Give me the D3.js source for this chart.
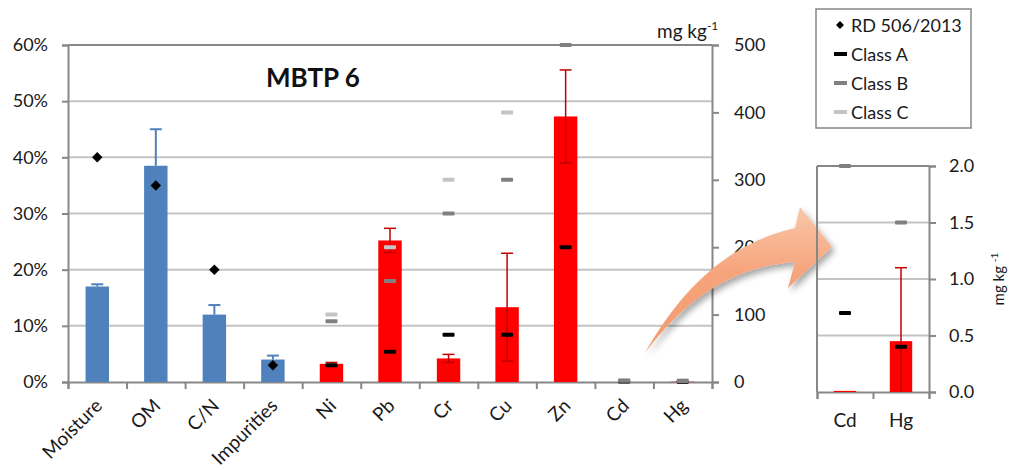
<!DOCTYPE html>
<html>
<head>
<meta charset="utf-8">
<script src="https://cdn.jsdelivr.net/npm/d3@7"></script>
<style>
  body { margin: 0; background: #fff; }
  svg { font-family: Lato, "Open Sans", sans-serif; }
</style>
</head>
<body>
<div class="chart"></div>
<script>
// categories on the main chart
const categories = ['Moisture', 'OM', 'C/N', 'Impurities', 'Ni', 'Pb', 'Cr', 'Cu', 'Zn', 'Cd', 'Hg'];

// % parameters (left axis)
const pctCats = ['Moisture', 'OM', 'C/N', 'Impurities'];
const pctValues = [17, 38.5, 12, 4];
const pctErr = [0.4, 6.5, 1.7, 0.7];
const rdLimits = [40, 35, 20, 3];

// metals (right axis, mg/kg)
const metalCats = ['Ni', 'Pb', 'Cr', 'Cu', 'Zn', 'Cd', 'Hg'];
const metalValues = [27, 210, 35, 111, 394, 0.01, 0.45];
const metalErr = [2, 18, 6, 80, 69, 0, 0.65];
const classA = [25, 45, 70, 70, 200, 0.7, 0.4];
const classB = [90, 150, 250, 300, 500, 2, 1.5];
const classC = [100, 200, 300, 400, 1000, 3, 2.5];

const leftTicks = [0, 10, 20, 30, 40, 50, 60];
const rightTicks = [0, 100, 200, 300, 400, 500];
const insetTicks = [0, 0.5, 1, 1.5, 2];
const insetCats = ['Cd', 'Hg'];

const W = 1009, H = 470;
const axisCol = '#878787', gridCol = '#c3c3c3';
const blue = '#4f81bd', red = '#ff0000', darkRed = '#c00000';
const colA = '#000000', colB = '#808080', colC = '#c4c4c4';

const svg = d3.select('.chart').append('svg')
    .attr('width', W)
    .attr('height', H);

const defs = svg.append('defs');
defs.append('clipPath').attr('id', 'mainClip')
    .append('rect').attr('x', 60).attr('y', 40).attr('width', 660).attr('height', 350);

const grad = defs.append('linearGradient').attr('id', 'arrowGrad')
    .attr('x1', '0%').attr('y1', '0%').attr('x2', '0%').attr('y2', '100%');
grad.append('stop').attr('offset', '0%').attr('stop-color', '#f9c7aa');
grad.append('stop').attr('offset', '45%').attr('stop-color', '#f6a47c');
grad.append('stop').attr('offset', '100%').attr('stop-color', '#f19a6e');
const shadow = defs.append('filter').attr('id', 'shadow')
    .attr('x', '-20%').attr('y', '-20%').attr('width', '150%').attr('height', '150%');
shadow.append('feDropShadow').attr('dx', 3).attr('dy', 4).attr('stdDeviation', 3)
    .attr('flood-color', '#000').attr('flood-opacity', 0.35);

// ---------- main chart ----------
const x = d3.scaleBand().domain(categories).range([68, 712]).paddingInner(0.6).paddingOuter(0.3);
const xIdx = d3.scaleLinear().domain([0, categories.length]).range([68, 712]);
const yL = d3.scaleLinear().domain([0, 60]).range([382, 45]);
const yR = d3.scaleLinear().domain([0, 500]).range([382, 45]);

// gridlines
svg.append('g').selectAll('line')
    .data(leftTicks.slice(1, -1))
    .enter().append('line')
    .attr('x1', 68).attr('x2', 712)
    .attr('y1', d => yL(d)).attr('y2', d => yL(d))
    .attr('stroke', gridCol).attr('stroke-width', 2);
svg.append('line')
    .attr('x1', 68).attr('x2', 712).attr('y1', yL(60)).attr('y2', yL(60))
    .attr('stroke', axisCol).attr('stroke-width', 2);

// left axis
const gl = svg.append('g').attr('transform', 'translate(68,0)')
    .call(d3.axisLeft(yL).tickValues(leftTicks).tickFormat(d => d + '%').tickSize(6).tickPadding(14));
// right axis
const gr = svg.append('g').attr('transform', 'translate(712,0)')
    .call(d3.axisRight(yR).tickValues(rightTicks).tickSize(7).tickPadding(15));
// bottom axis (ticks at category boundaries)
const gb = svg.append('g').attr('transform', 'translate(0,382)')
    .call(d3.axisBottom(xIdx).ticks(11).tickSize(7).tickFormat(''));
[gl, gr, gb].forEach(g => {
    g.select('.domain').attr('stroke', axisCol).attr('stroke-width', 2);
    g.selectAll('.tick line').attr('stroke', axisCol).attr('stroke-width', 2);
    g.selectAll('.tick text').attr('font-size', 18).attr('fill', '#1a1a1a')
        .attr('font-family', 'Lato, sans-serif');
});

const plot = svg.append('g').attr('clip-path', 'url(#mainClip)');

// % bars
plot.selectAll('rect.pct')
    .data(pctCats)
    .enter().append('rect')
    .attr('class', 'pct')
    .attr('x', d => x(d))
    .attr('width', x.bandwidth())
    .attr('y', (d, i) => yL(pctValues[i]))
    .attr('height', (d, i) => yL(0) - yL(pctValues[i]))
    .attr('fill', blue);

// metal bars
plot.selectAll('rect.metal')
    .data(metalCats)
    .enter().append('rect')
    .attr('class', 'metal')
    .attr('x', d => x(d))
    .attr('width', x.bandwidth())
    .attr('y', (d, i) => yR(metalValues[i]))
    .attr('height', (d, i) => yR(0) - yR(metalValues[i]))
    .attr('fill', red);

// error bars, % (plus only)
pctCats.forEach((c, i) => {
    const cx = x(c) + x.bandwidth() / 2;
    plot.append('line').attr('x1', cx).attr('x2', cx)
        .attr('y1', yL(pctValues[i])).attr('y2', yL(pctValues[i] + pctErr[i]))
        .attr('stroke', blue).attr('stroke-width', 2);
    plot.append('line').attr('x1', cx - 6).attr('x2', cx + 6)
        .attr('y1', yL(pctValues[i] + pctErr[i])).attr('y2', yL(pctValues[i] + pctErr[i]))
        .attr('stroke', blue).attr('stroke-width', 2);
});

// error bars, metals (both ways)
function metalError(g, xs, ys, cats, vals, errs, capW) {
    cats.forEach((c, i) => {
        if (!errs[i]) return;
        const cx = xs(c) + xs.bandwidth() / 2;
        const lo = Math.max(0, vals[i] - errs[i]), hi = vals[i] + errs[i];
        g.append('line').attr('x1', cx).attr('x2', cx)
            .attr('y1', ys(lo)).attr('y2', ys(hi))
            .attr('stroke', darkRed).attr('stroke-width', 1.5);
        [hi, lo].forEach(v => {
            if (v === 0) return;
            g.append('line').attr('x1', cx - capW).attr('x2', cx + capW)
                .attr('y1', ys(v)).attr('y2', ys(v))
                .attr('stroke', darkRed).attr('stroke-width', 1.5);
        });
    });
}
metalError(plot, x, yR, metalCats, metalValues, metalErr, 6);

// class limit markers (grey class B drawn last so it sits on top near 0)
function classMarks(g, xs, ys, cats, arr, col, maxV) {
    g.selectAll(null)
        .data(cats.filter((c, i) => arr[i] <= maxV))
        .enter().append('rect')
        .attr('x', d => xs(d) + xs.bandwidth() / 2 - 6)
        .attr('y', d => ys(arr[cats.indexOf(d)]) - 2)
        .attr('width', 12).attr('height', 4)
        .attr('rx', 1)
        .attr('fill', col);
}
classMarks(plot, x, yR, metalCats, classA, colA, 500);
classMarks(plot, x, yR, metalCats, classC, colC, 500);
classMarks(plot, x, yR, metalCats, classB, colB, 500);

// RD 506/2013 diamonds
plot.selectAll('path.rd')
    .data(pctCats)
    .enter().append('path')
    .attr('class', 'rd')
    .attr('d', d3.symbol(d3.symbolDiamond2, 70))
    .attr('transform', (d, i) => `translate(${x(d) + x.bandwidth() / 2},${yL(rdLimits[i])})`)
    .attr('fill', '#000');

// category labels
svg.append('g').selectAll('text')
    .data(categories)
    .enter().append('text')
    .attr('transform', d => `translate(${x(d) + x.bandwidth() / 2 + 6},${407}) rotate(-45)`)
    .attr('text-anchor', 'end')
    .attr('font-size', 19)
    .attr('fill', '#1a1a1a')
    .text(d => d);

// title
svg.append('text').attr('x', 266).attr('y', 87)
    .attr('font-size', 26).attr('font-weight', 'bold').attr('fill', '#111')
    .text('MBTP 6');

// unit
const unit = svg.append('text').attr('x', 657).attr('y', 38)
    .attr('font-size', 19).attr('fill', '#1a1a1a');
unit.append('tspan').text('mg kg');
unit.append('tspan').attr('dy', -8).attr('font-size', 12).text('-1');

// ---------- arrow ----------
svg.append('path')
    .attr('d', 'M645,353 C675,300 720,245 795,228 L800,207 L832,247 L788,288 L795,262 C740,266 690,292 645,353 Z')
    .attr('fill', 'url(#arrowGrad)')
    .attr('filter', 'url(#shadow)');

// ---------- inset ----------
const xi = d3.scaleBand().domain(insetCats).range([817, 929]).paddingInner(0.6).paddingOuter(0.3);
const xiIdx = d3.scaleLinear().domain([0, 2]).range([817, 929]);
const yI = d3.scaleLinear().domain([0, 2]).range([392, 166]);

svg.append('g').selectAll('line')
    .data(insetTicks.slice(1, -1))
    .enter().append('line')
    .attr('x1', 817).attr('x2', 929)
    .attr('y1', d => yI(d)).attr('y2', d => yI(d))
    .attr('stroke', gridCol).attr('stroke-width', 2);
svg.append('line').attr('x1', 817).attr('x2', 929).attr('y1', yI(2)).attr('y2', yI(2))
    .attr('stroke', axisCol).attr('stroke-width', 2);
svg.append('line').attr('x1', 817).attr('x2', 817).attr('y1', yI(2)).attr('y2', yI(0))
    .attr('stroke', axisCol).attr('stroke-width', 2);

const gir = svg.append('g').attr('transform', 'translate(929,0)')
    .call(d3.axisRight(yI).tickValues(insetTicks).tickFormat(d3.format('.1f')).tickSize(7).tickPadding(13));
const gib = svg.append('g').attr('transform', 'translate(0,392)')
    .call(d3.axisBottom(xiIdx).ticks(2).tickSize(7).tickFormat(''));
[gir, gib].forEach(g => {
    g.select('.domain').attr('stroke', axisCol).attr('stroke-width', 2);
    g.selectAll('.tick line').attr('stroke', axisCol).attr('stroke-width', 2);
    g.selectAll('.tick text').attr('font-size', 18).attr('fill', '#1a1a1a')
        .attr('font-family', 'Lato, sans-serif');
});

const insetVals = insetCats.map(c => metalValues[metalCats.indexOf(c)]);
const insetErr = insetCats.map(c => metalErr[metalCats.indexOf(c)]);
const inset = svg.append('g');
inset.selectAll('rect.bar')
    .data(insetCats)
    .enter().append('rect')
    .attr('class', 'bar')
    .attr('x', d => xi(d))
    .attr('width', xi.bandwidth())
    .attr('y', (d, i) => yI(insetVals[i]))
    .attr('height', (d, i) => yI(0) - yI(insetVals[i]))
    .attr('fill', red);
metalError(inset, xi, yI, insetCats, insetVals, insetErr, 6);
const pick = arr => insetCats.map(c => arr[metalCats.indexOf(c)]);
classMarks(inset, xi, yI, insetCats, pick(classC), colC, 2);
classMarks(inset, xi, yI, insetCats, pick(classB), colB, 2);
classMarks(inset, xi, yI, insetCats, pick(classA), colA, 2);

svg.append('g').selectAll('text')
    .data(insetCats)
    .enter().append('text')
    .attr('x', d => xi(d) + xi.bandwidth() / 2)
    .attr('y', 427)
    .attr('text-anchor', 'middle')
    .attr('font-size', 19).attr('fill', '#1a1a1a')
    .text(d => d);

const iu = svg.append('text')
    .attr('transform', 'translate(1004,279) rotate(-90)')
    .attr('text-anchor', 'middle')
    .attr('font-size', 15).attr('fill', '#1a1a1a');
iu.append('tspan').text('mg kg ');
iu.append('tspan').attr('dy', -6).attr('font-size', 10).text('-1');

// ---------- legend ----------
const legend = svg.append('g');
legend.append('rect').attr('x', 816).attr('y', 9).attr('width', 155).attr('height', 119)
    .attr('fill', '#fff').attr('stroke', axisCol).attr('stroke-width', 1.5);
const legendLabels = ['RD 506/2013', 'Class A', 'Class B', 'Class C'];
const legendCols = [null, colA, colB, colC];
legendLabels.forEach((t, i) => {
    const cy = 25 + i * 29;
    if (i === 0) {
        legend.append('path').attr('d', d3.symbol(d3.symbolDiamond2, 40))
            .attr('transform', `translate(840,${cy})`).attr('fill', '#000');
    } else {
        legend.append('rect').attr('x', 834).attr('y', cy - 2).attr('width', 13).attr('height', 4)
            .attr('fill', legendCols[i]);
    }
    legend.append('text').attr('x', 851).attr('y', cy + 7)
        .attr('font-size', 18).attr('fill', '#1a1a1a').text(t);
});
</script>
</body>
</html>
